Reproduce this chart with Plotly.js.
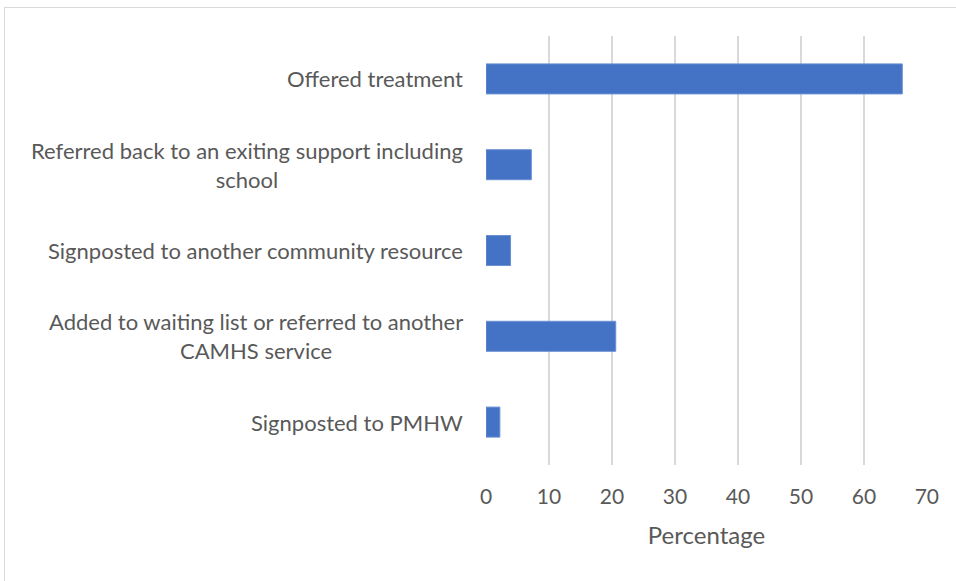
<!DOCTYPE html>
<html>
<head>
<meta charset="utf-8">
<script src="https://cdn.plot.ly/plotly-3.0.1.min.js"></script>
<style>
html,body{margin:0;padding:0;background:#fff;}
#frame{position:absolute;left:4px;top:7px;width:970px;height:600px;border:1px solid #d9d9d9;box-sizing:border-box;}
#chart{position:absolute;left:0;top:0;width:956px;height:581px;}
</style>
</head>
<body>
<div id="frame"></div>
<div id="chart"></div>
<script>
const categories = [
  "Offered treatment",
  "Referred back to an exiting support including<br>school",
  "Signposted to another community resource",
  "Added to waiting list or referred to another<br>CAMHS service",
  "Signposted to PMHW"
];
const percentages = [66.1, 7.2, 3.9, 20.6, 2.2];
const xTicks = [0, 10, 20, 30, 40, 50, 60, 70];

const fontFam = "Lato, 'Open Sans', sans-serif";
const textColor = "#595959";

const trace = {
  type: "bar",
  orientation: "h",
  x: percentages,
  y: categories,
  marker: {color: "#4472C4", line: {color: "#6a90d4", width: 1}},
  hoverinfo: "skip",
  cliponaxis: false
};

const annotations = categories.map(c => ({
  xref: "paper", yref: "y", x: 0, y: c,
  xanchor: "right", yanchor: "middle", xshift: -21,
  text: c, align: "center", showarrow: false,
  font: {family: fontFam, size: 22, color: textColor}
}));

const layout = {
  width: 956, height: 581,
  margin: {l: 486, r: 29, t: 36, b: 116},
  paper_bgcolor: "rgba(0,0,0,0)",
  plot_bgcolor: "rgba(0,0,0,0)",
  showlegend: false,
  bargap: 0.65,
  xaxis: {
    range: [0, 70.02],
    tickvals: xTicks,
    ticktext: xTicks.map(String),
    showgrid: true, gridcolor: "#d9d9d9", gridwidth: 1.5,
    zeroline: false, showline: false, ticks: "",
    ticklabelstandoff: 17,
    tickfont: {family: fontFam, size: 21, color: textColor},
    title: {text: "Percentage", standoff: 20, font: {family: fontFam, size: 24, color: textColor}}
  },
  yaxis: {
    type: "category",
    autorange: "reversed",
    showticklabels: false,
    showgrid: false, zeroline: false, showline: false, ticks: ""
  },
  annotations: annotations
};

Plotly.newPlot("chart", [trace], layout, {staticPlot: true, displayModeBar: false});
</script>
</body>
</html>
